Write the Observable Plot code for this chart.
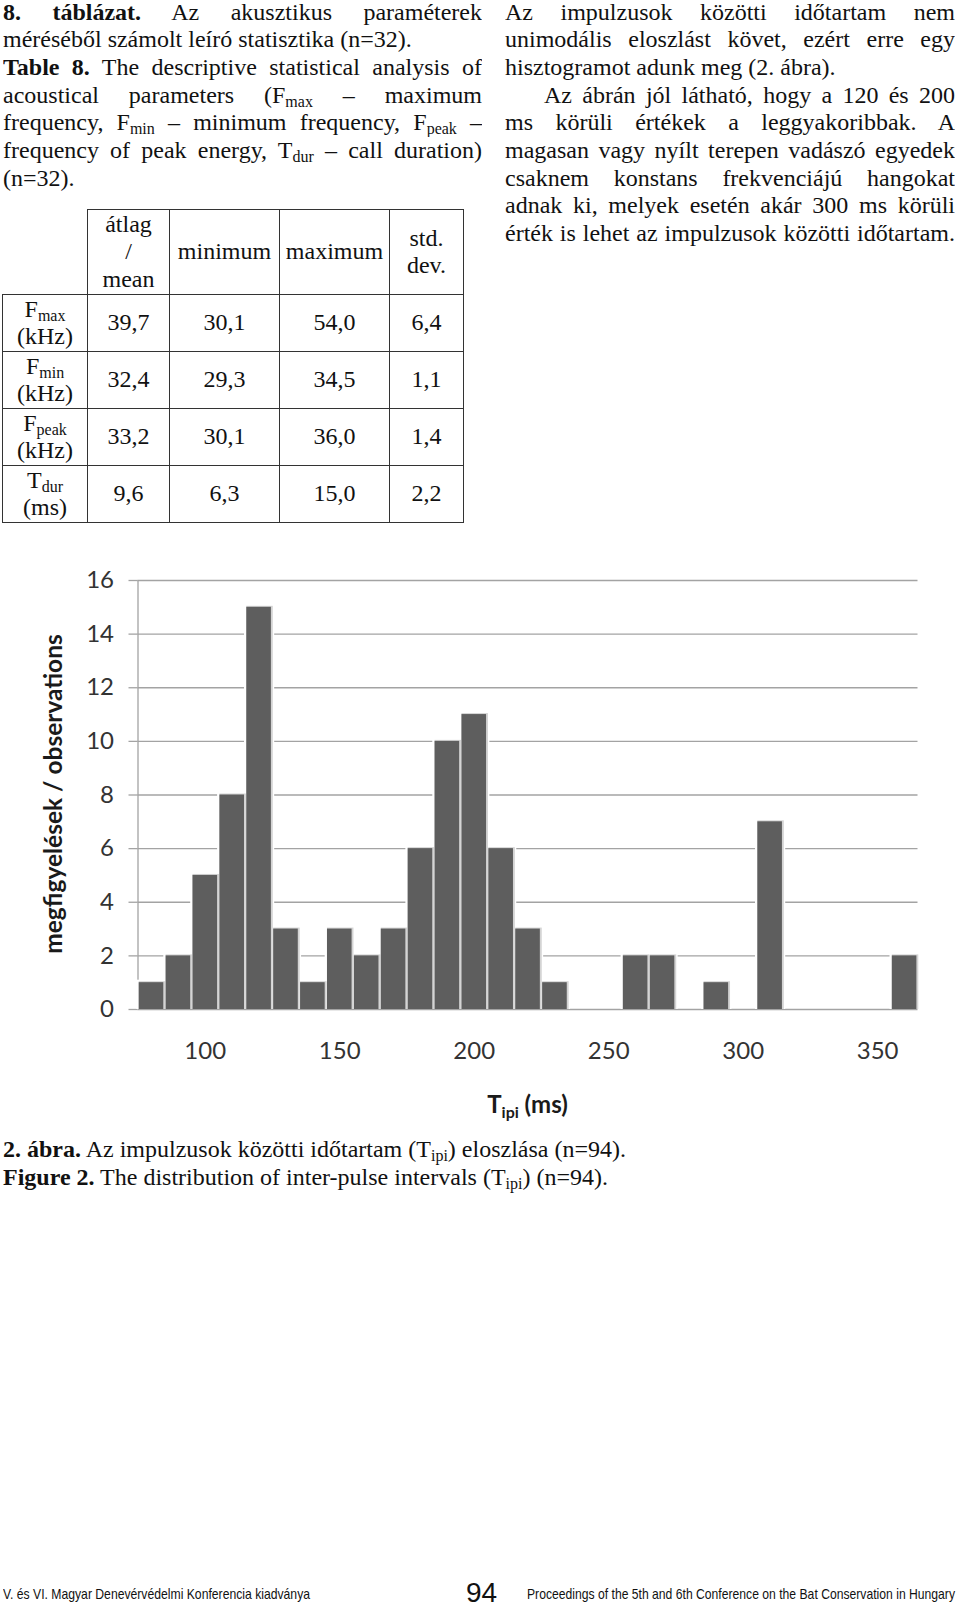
<!DOCTYPE html>
<html><head><meta charset="utf-8">
<script src="https://cdn.jsdelivr.net/npm/d3@7"></script>
<script src="https://cdn.jsdelivr.net/npm/@observablehq/plot@0.6"></script>
<style>
html,body{margin:0;padding:0;background:#fff;}
body{width:960px;height:1605px;position:relative;overflow:hidden;font-family:"Liberation Serif","Times New Roman",serif;font-size:24px;color:#111;}
.col{position:absolute;top:-1.5px;}
.ln{height:27.7px;line-height:27.7px;white-space:nowrap;}
.j{text-align:justify;text-align-last:justify;white-space:normal;overflow:hidden;}
.sub{font-size:16px;position:relative;top:4px;line-height:0;}
b{font-weight:bold;}
#tbl{position:absolute;left:2px;top:209px;border-collapse:collapse;table-layout:fixed;width:461px;}
#tbl td{border:1.5px solid #333;padding:0;text-align:center;vertical-align:middle;line-height:27.5px;font-size:24px;}
#tbl tr{height:57px;}
#tbl tr.hd{height:85px;}
#tbl td.blank{border-top-style:hidden;border-left-style:hidden;}
#chart{position:absolute;left:0;top:540px;}
.cap{position:absolute;left:3px;}
.foot{position:absolute;font-family:"Liberation Sans",Arial,sans-serif;color:#111;white-space:nowrap;}
.fit{display:inline-block;transform-origin:0 50%;}
</style></head>
<body>
<div class="col" style="left:3px;width:479px;">
  <div class="ln j"><b>8. táblázat.</b> Az akusztikus paraméterek</div>
  <div class="ln">méréséből számolt leíró statisztika (n=32).</div>
  <div class="ln j"><b>Table 8.</b> The descriptive statistical analysis of</div>
  <div class="ln j">acoustical parameters (F<span class="sub">max</span> – maximum</div>
  <div class="ln j">frequency, F<span class="sub">min</span> – minimum frequency, F<span class="sub">peak</span> –</div>
  <div class="ln j">frequency of peak energy, T<span class="sub">dur</span> – call duration)</div>
  <div class="ln">(n=32).</div>
</div>
<div class="col" style="left:505px;width:450px;">
  <div class="ln j">Az impulzusok közötti időtartam nem</div>
  <div class="ln j">unimodális eloszlást követ, ezért erre egy</div>
  <div class="ln">hisztogramot adunk meg (2. ábra).</div>
  <div class="ln j" style="padding-left:39px;">Az ábrán jól látható, hogy a 120 és 200</div>
  <div class="ln j">ms körüli értékek a leggyakoribbak. A</div>
  <div class="ln j">magasan vagy nyílt terepen vadászó egyedek</div>
  <div class="ln j">csaknem konstans frekvenciájú hangokat</div>
  <div class="ln j">adnak ki, melyek esetén akár 300 ms körüli</div>
  <div class="ln j">érték is lehet az impulzusok közötti időtartam.</div>
</div>

<table id="tbl">
<colgroup><col style="width:85px"><col style="width:82px"><col style="width:110px"><col style="width:110px"><col style="width:74px"></colgroup>
<tr class="hd"><td class="blank"></td><td>átlag<br>/<br>mean</td><td>minimum</td><td>maximum</td><td>std.<br>dev.</td></tr>
<tr><td>F<span class="sub">max</span><br>(kHz)</td><td>39,7</td><td>30,1</td><td>54,0</td><td>6,4</td></tr>
<tr><td>F<span class="sub">min</span><br>(kHz)</td><td>32,4</td><td>29,3</td><td>34,5</td><td>1,1</td></tr>
<tr><td>F<span class="sub">peak</span><br>(kHz)</td><td>33,2</td><td>30,1</td><td>36,0</td><td>1,4</td></tr>
<tr><td>T<span class="sub">dur</span><br>(ms)</td><td>9,6</td><td>6,3</td><td>15,0</td><td>2,2</td></tr>
</table>

<div id="chart"></div>

<div class="cap" style="top:1136px;line-height:27.7px;">
  <div><b>2. ábra.</b> Az impulzusok közötti időtartam (T<span class="sub">ipi</span>) eloszlása (n=94).</div>
  <div><b>Figure 2.</b> The distribution of inter-pulse intervals (T<span class="sub">ipi</span>) (n=94).</div>
</div>

<div class="foot" style="left:3px;font-size:15px;top:1585px;"><span class="fit" data-w="307">V. és VI. Magyar Denevérvédelmi Konferencia kiadványa</span></div>
<div class="foot" style="left:466px;font-size:28px;top:1577px;">94</div>
<div class="foot" style="left:527px;font-size:15px;top:1585px;"><span class="fit" data-w="428">Proceedings of the 5th and 6th Conference on the Bat Conservation in Hungary</span></div>

<script>
// Histogram of inter-pulse intervals (bin centres, ms) and counts
const tipi = [80, 90, 100, 110, 120, 130, 140, 150, 160, 170, 180, 190, 200, 210, 220,
              230, 240, 250, 260, 270, 280, 290, 300, 310, 320, 330, 340, 350, 360];
const observations = [1, 2, 5, 8, 15, 3, 1, 3, 2, 3, 6, 10, 11, 6, 3,
                      1, 0, 0, 2, 2, 0, 1, 0, 7, 0, 0, 0, 0, 2];
const binWidth = 10;
const xTicks = [100, 150, 200, 250, 300, 350];
const yTicks = [0, 2, 4, 6, 8, 10, 12, 14, 16];

const bins = tipi.map((t, i) => ({t, n: observations[i]})).filter(d => d.n > 0);
const x1 = d => d.t - binWidth / 2;
const x2 = d => d.t + binWidth / 2;

const chart = Plot.plot({
  width: 960,
  height: 589,
  marginLeft: 137.5,
  marginRight: 42.5,
  marginTop: 40,
  marginBottom: 120,
  x: {domain: [75, 365]},
  y: {domain: [0, 16]},
  style: {fontFamily: "Lato, 'Open Sans', sans-serif", fontSize: "24px", color: "#333", background: "white", overflow: "visible"},
  marks: [
    Plot.ruleY(yTicks, {stroke: "#a3a3a3", strokeWidth: 1.3}),
    Plot.ruleX([75], {stroke: "#a3a3a3", strokeWidth: 1.3}),
    Plot.axisY({ticks: yTicks, tickSize: 9, tickPadding: 15, stroke: "#a3a3a3", strokeWidth: 1.3, fill: "#333", label: null, fontSize: 24}),
    Plot.axisX({ticks: xTicks, tickSize: 0, tickPadding: 32, fill: "#333", label: null, fontSize: 24}),
    // white halo around each bar (breaks gridlines like the original)
    Plot.rectY(bins, {x1, x2, y: "n", fill: "white", insetLeft: -1.1, insetRight: -2.2, insetTop: -2.5}),
    // soft shadow
    Plot.rectY(bins, {x1, x2, y: "n", fill: "#d4d4d4", insetLeft: 1.2, insetRight: -0.8, insetTop: -1}),
    Plot.rectY(bins, {x1, x2, y: "n", fill: "#5e5e5e", insetLeft: 1.2, insetRight: 1.1})
  ]
});

const svg = d3.select(chart);
svg.append("text")
  .attr("transform", "translate(52,254) rotate(-90)")
  .attr("text-anchor", "middle")
  .attr("dominant-baseline", "central")
  .attr("font-family", "Lato, 'Open Sans', sans-serif")
  .attr("font-weight", 700)
  .attr("font-size", 24.5)
  .attr("fill", "#1a1a1a")
  .text("megfigyelések / observations");

const tl = svg.append("text")
  .attr("x", 527.5)
  .attr("y", 573)
  .attr("text-anchor", "middle")
  .attr("font-family", "Lato, 'Open Sans', sans-serif")
  .attr("font-weight", 700)
  .attr("font-size", 24)
  .attr("fill", "#1a1a1a");
tl.append("tspan").text("T");
tl.append("tspan").attr("font-size", 16).attr("dy", 5).text("ipi");
tl.append("tspan").attr("dy", -5).text(" (ms)");

document.getElementById("chart").appendChild(chart);

document.querySelectorAll(".fit").forEach(el => {
  const w = el.getBoundingClientRect().width;
  el.style.transform = `scaleX(${(+el.dataset.w) / w})`;
});
</script>
</body></html>
